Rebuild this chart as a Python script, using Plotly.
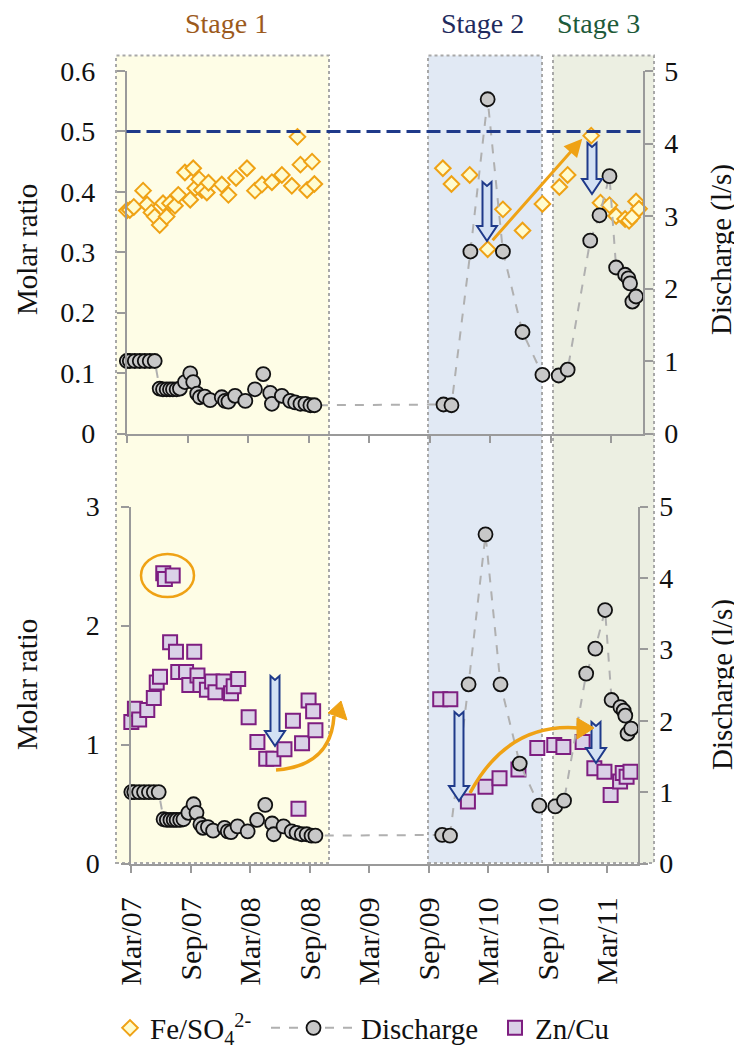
import plotly.graph_objects as go

# ---------------- data ----------------
fe_dates = ['2007-03-02', '2007-03-11', '2007-03-23', '2007-04-20', '2007-05-02', '2007-05-15',
            '2007-05-25', '2007-06-09', '2007-06-19', '2007-06-30', '2007-07-10', '2007-07-25',
            '2007-08-04', '2007-08-24', '2007-09-09', '2007-09-18', '2007-09-24', '2007-10-06',
            '2007-10-14', '2007-10-29', '2007-11-03', '2007-12-13', '2008-01-02', '2008-01-25',
            '2008-02-27', '2008-03-22', '2008-04-12', '2008-05-12', '2008-06-11', '2008-07-11',
            '2008-07-28', '2008-08-06', '2008-08-26', '2008-09-10', '2008-09-17',
            '2009-10-09', '2009-11-04', '2009-12-29', '2010-02-21', '2010-04-08', '2010-06-06',
            '2010-08-05', '2010-09-25', '2010-10-20', '2010-12-30', '2011-01-27', '2011-02-23',
            '2011-03-15', '2011-04-11', '2011-04-23', '2011-05-02', '2011-05-14', '2011-05-23']
fe_vals = [0.369, 0.370, 0.375, 0.402, 0.379, 0.366,
           0.359, 0.345, 0.381, 0.359, 0.381, 0.377,
           0.395, 0.432, 0.387, 0.439, 0.406, 0.421,
           0.403, 0.399, 0.415, 0.412, 0.395, 0.423,
           0.439, 0.402, 0.412, 0.416, 0.428, 0.410,
           0.491, 0.445, 0.403, 0.450, 0.413,
           0.439, 0.413, 0.428, 0.305, 0.371, 0.336,
           0.380, 0.408, 0.428, 0.493, 0.382, 0.378,
           0.360, 0.355, 0.352, 0.358, 0.384, 0.372]

q_dates = ['2007-03-02', '2007-03-11', '2007-03-26', '2007-04-10', '2007-04-25', '2007-05-10',
           '2007-05-25', '2007-06-09', '2007-06-19', '2007-06-30', '2007-07-10', '2007-07-19',
           '2007-07-30', '2007-08-09', '2007-08-24', '2007-09-09', '2007-09-18', '2007-09-30',
           '2007-10-08', '2007-10-23', '2007-11-08', '2007-12-13', '2007-12-23', '2008-01-02',
           '2008-01-22', '2008-02-22', '2008-03-22', '2008-04-16', '2008-05-07', '2008-05-12',
           '2008-06-11', '2008-07-06', '2008-07-21', '2008-08-06', '2008-08-21', '2008-09-05',
           '2008-09-17',
           '2009-10-11', '2009-11-04', '2009-12-31', '2010-02-21', '2010-04-08', '2010-06-06',
           '2010-08-05', '2010-09-23', '2010-10-20', '2010-12-27', '2011-01-24', '2011-02-23',
           '2011-03-15', '2011-04-11', '2011-04-21', '2011-04-26', '2011-05-03', '2011-05-14']
q_vals = [1.00, 1.00, 1.00, 1.00, 1.00, 1.00,
          1.00, 0.62, 0.61, 0.61, 0.61, 0.61,
          0.61, 0.62, 0.71, 0.83, 0.71, 0.55,
          0.50, 0.51, 0.46, 0.50, 0.45, 0.44,
          0.52, 0.45, 0.61, 0.82, 0.56, 0.41,
          0.52, 0.45, 0.43, 0.41, 0.41, 0.39,
          0.39,
          0.40, 0.39, 2.51, 4.61, 2.51, 1.40,
          0.81, 0.80, 0.88, 2.66, 3.01, 3.55,
          2.29, 2.19, 2.14, 2.07, 1.82, 1.89]

zn_dates = ['2007-03-02', '2007-03-13', '2007-03-26', '2007-04-20', '2007-05-10', '2007-05-19',
            '2007-05-29', '2007-06-08', '2007-06-13', '2007-06-29', '2007-07-07', '2007-07-17',
            '2007-07-24', '2007-08-17', '2007-08-27', '2007-09-11', '2007-09-21', '2007-09-30',
            '2007-10-20', '2007-11-05', '2007-11-15', '2007-12-10', '2008-01-02', '2008-01-10',
            '2008-01-24', '2008-02-25', '2008-03-23', '2008-04-19', '2008-05-11', '2008-06-14',
            '2008-07-10', '2008-07-27', '2008-08-07', '2008-08-27', '2008-09-10', '2008-09-17',
            '2009-10-05', '2009-11-05', '2009-12-29', '2010-02-21', '2010-04-05', '2010-06-02',
            '2010-07-30', '2010-09-20', '2010-10-18', '2010-12-16', '2011-01-21', '2011-02-21',
            '2011-03-12', '2011-04-10', '2011-04-18', '2011-04-30', '2011-05-12']
zn_vals = [1.19, 1.30, 1.21, 1.29, 1.39, 1.52,
           1.57, 2.44, 2.39, 1.86, 2.42, 1.78,
           1.61, 1.61, 1.50, 1.78, 1.58, 1.50,
           1.46, 1.53, 1.44, 1.53, 1.43, 1.49,
           1.55, 1.23, 1.02, 0.88, 0.88, 0.96,
           1.20, 0.46, 1.01, 1.37, 1.28, 1.12,
           1.38, 1.38, 0.52, 0.645, 0.716, 0.79,
           0.97, 0.996, 0.98, 1.02, 0.80, 0.77,
           0.575, 0.69, 0.76, 0.73, 0.77]

tick_dates = ['2007-03-01', '2007-09-01', '2008-03-01', '2008-09-01', '2009-03-01',
              '2009-09-01', '2010-03-01', '2010-09-01', '2011-03-01']
tick_labels = ['Mar/07', 'Sep/07', 'Mar/08', 'Sep/08', 'Mar/09',
               'Sep/09', 'Mar/10', 'Sep/10', 'Mar/11']
x_range = ['2007-03-01', '2011-06-04']
fe_threshold = 0.5

# ---------------- layout helpers ----------------
OFF = 8                      # page body margin the figure sits in
W, H = 742 - OFF, 1049 - OFF
FONT = 'Liberation Serif, Times New Roman, serif'
ORANGE = '#EFA215'
NAVY = '#1F3A8A'
GREY = '#9A9A9A'
TXT = '#111111'


def px(x):
    return (x - OFF) / W


def py(y):
    return 1 - (y - OFF) / H


fig = go.Figure()

fig.add_trace(go.Scatter(
    x=fe_dates, y=fe_vals, mode='markers', name='Fe/SO<sub>4</sub><sup>2-</sup>',
    marker=dict(symbol='diamond', size=12, color='#FFFCCF', line=dict(color=ORANGE, width=2)),
    xaxis='x', yaxis='y', cliponaxis=False, legend='legend'))
fig.add_trace(go.Scatter(
    x=q_dates, y=q_vals, mode='lines+markers', name='Discharge',
    line=dict(color='#B0B0B0', width=2, dash='dash'),
    marker=dict(symbol='circle', size=14, color='#C8C8C8', line=dict(color='#111111', width=1.8)),
    xaxis='x', yaxis='y2', cliponaxis=False, legend='legend2'))
fig.add_trace(go.Scatter(
    x=zn_dates, y=zn_vals, mode='markers', name='Zn/Cu',
    marker=dict(symbol='square', size=14, color='#DAD1E7', line=dict(color='#7E1E80', width=2)),
    xaxis='x2', yaxis='y3', cliponaxis=False, legend='legend3'))
fig.add_trace(go.Scatter(
    x=q_dates, y=q_vals, mode='lines+markers', name='Discharge', showlegend=False,
    line=dict(color='#B0B0B0', width=2, dash='dash'),
    marker=dict(symbol='circle', size=14, color='#C8C8C8', line=dict(color='#111111', width=1.8)),
    xaxis='x2', yaxis='y4', cliponaxis=False))

axis_common = dict(showline=True, linecolor=GREY, linewidth=1.5, ticks='outside', ticklen=8,
                   tickcolor=GREY, tickwidth=1.5, showgrid=False, zeroline=False,
                   automargin=False,
                   tickfont=dict(family=FONT, size=28, color=TXT))

top_dom = [py(433.5), py(71)]
bot_dom = [py(863.5), py(506.5)]


def legend_at(x_left, itemwidth=30):
    return dict(orientation='h', x=px(x_left), xanchor='left', y=py(1028), yanchor='middle',
                font=dict(family=FONT, size=29, color=TXT), bgcolor='rgba(0,0,0,0)',
                borderwidth=0, itemwidth=itemwidth)


fig.update_layout(
    template='none',
    width=W, height=H,
    margin=dict(l=0, r=0, t=0, b=0, pad=0, autoexpand=False),
    paper_bgcolor='white', plot_bgcolor='rgba(0,0,0,0)',
    font=dict(family=FONT, color=TXT),
    xaxis=dict(axis_common, domain=[px(126.5), px(643)], type='date', range=x_range,
               tickvals=tick_dates, ticktext=tick_labels, showticklabels=False, anchor='y'),
    yaxis=dict(axis_common, domain=top_dom, range=[0, 0.6], dtick=0.1, anchor='x',
               ticklabelstandoff=16),
    yaxis2=dict(axis_common, overlaying='y', side='right', anchor='x', range=[0, 5], dtick=1,
                ticklabelstandoff=6),
    xaxis2=dict(axis_common, domain=[px(131), px(638)], type='date', range=x_range,
                tickvals=tick_dates, ticktext=tick_labels, tickangle=-90, anchor='y3',
                ticklabelstandoff=12, tickfont=dict(family=FONT, size=30, color=TXT)),
    yaxis3=dict(axis_common, domain=bot_dom, range=[0, 3], dtick=1, anchor='x2',
                ticklabelstandoff=16),
    yaxis4=dict(axis_common, overlaying='y3', side='right', anchor='x2', range=[0, 5], dtick=1,
                ticklabelstandoff=6),
    legend=legend_at(110),
    legend2=legend_at(266, 85),
    legend3=legend_at(495),
    showlegend=True,
)

shapes = []
# stage background boxes
for x0, x1, fill in [(116, 329, '#FEFDE6'), (428, 542, '#E1E9F4'), (553, 654, '#ECEFE2')]:
    shapes.append(dict(type='rect', xref='paper', yref='paper', x0=px(x0), x1=px(x1),
                       y0=py(863), y1=py(55.5), fillcolor=fill, layer='below',
                       line=dict(color='#A8A8A8', width=2, dash='dot')))
# threshold line
shapes.append(dict(type='line', xref='x domain', yref='y', x0=0, x1=1, y0=fe_threshold,
                   y1=fe_threshold, line=dict(color=NAVY, width=3, dash='14px,6px')))
# ellipse around outliers
shapes.append(dict(type='circle', xref='paper', yref='paper', x0=px(141), x1=px(194),
                   y0=py(597), y1=py(554), line=dict(color=ORANGE, width=2.5)))


def down_arrow(x, top, tip, sw=4.5, hw=10, hl=15, notch=4):
    pts = [(x - sw, top), (x, top + notch), (x + sw, top), (x + sw, tip - hl), (x + hw, tip - hl),
           (x, tip), (x - hw, tip - hl), (x - sw, tip - hl)]
    path = 'M ' + ' L '.join(f'{px(a):.5f},{py(b):.5f}' for a, b in pts) + ' Z'
    return dict(type='path', xref='paper', yref='paper', path=path, fillcolor='#D3E1F4',
                line=dict(color=NAVY, width=2))


for x, top, tip in [(487, 182, 241), (592, 143, 194), (275, 676, 746), (459, 712, 801),
                    (596, 722, 763)]:
    shapes.append(down_arrow(x, top, tip))


def curve(p0, c, p1):
    return dict(type='path', xref='paper', yref='paper',
                path=f'M {px(p0[0]):.5f},{py(p0[1]):.5f} Q {px(c[0]):.5f},{py(c[1]):.5f} '
                     f'{px(p1[0]):.5f},{py(p1[1]):.5f}',
                line=dict(color=ORANGE, width=3.5))


def tri(a, b, c):
    pts = [a, b, c]
    path = 'M ' + ' L '.join(f'{px(u):.5f},{py(v):.5f}' for u, v in pts) + ' Z'
    return dict(type='path', xref='paper', yref='paper', path=path, fillcolor=ORANGE,
                line=dict(color=ORANGE, width=1))


shapes.append(curve((276, 770), (331, 766), (334, 716)))
shapes.append(tri((341, 701), (328, 713), (347, 720)))
shapes.append(curve((470, 793), (508, 722), (579, 728)))
shapes.append(tri((594, 728), (577, 718), (577, 739)))

fig.update_layout(shapes=shapes)


def label(x, y, text, color=TXT, size=28, angle=0):
    return dict(x=px(x), y=py(y), xref='paper', yref='paper', text=text, showarrow=False,
                xanchor='center', yanchor='middle', textangle=angle,
                font=dict(family=FONT, size=size, color=color))


annotations = [
    dict(x='2010-12-03', y=0.488, xref='x', yref='y', ax=-91, ay=103, text='', showarrow=True,
         arrowhead=2, arrowsize=1.2, arrowwidth=3, arrowcolor=ORANGE),
    label(226, 23, 'Stage 1', '#9C5A1C'),
    label(482, 23, 'Stage 2', '#1F2B5E'),
    label(598, 23, 'Stage 3', '#1E5A3A'),
]
for yc in (250, 685):
    annotations.append(label(27, yc, 'Molar ratio', size=29, angle=-90))
    annotations.append(label(722, yc, 'Discharge (l/s)', size=29, angle=-90))
fig.update_layout(annotations=annotations)

fig.write_html('out.html')
